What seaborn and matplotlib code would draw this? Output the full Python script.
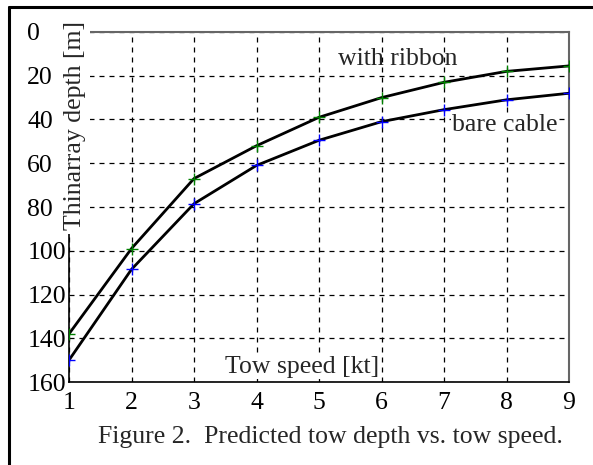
import numpy as np
import pandas as pd
import matplotlib
matplotlib.use("Agg")
import matplotlib.pyplot as plt
import seaborn as sns
from matplotlib.lines import Line2D

speed = [1, 2, 3, 4, 5, 6, 7, 8, 9]
depth_ribbon = [138, 99, 67, 52, 39, 30, 23, 18, 15.5]
depth_bare = [150, 108.5, 78.5, 61, 49.5, 41, 35.5, 31, 28]
y_ticks = [0, 20, 40, 60, 80, 100, 120, 140, 160]
x_ticks = [1, 2, 3, 4, 5, 6, 7, 8, 9]

sns.set_style("white")
plt.rcParams['font.family'] = ['Liberation Serif', 'DejaVu Serif']

FS = 18.5
W, H = 593, 465
fig = plt.figure(figsize=(W / 100, H / 100), dpi=100)
ax = fig.add_axes([69 / W, 1 - 382 / H, 500 / W, 350 / H])

df = pd.DataFrame({"speed": speed, "ribbon": depth_ribbon, "bare": depth_bare})
sns.lineplot(data=df, x="speed", y="ribbon", ax=ax, color="black", lw=2,
             marker="+", markersize=8, markeredgecolor="green", markeredgewidth=1, zorder=5)
sns.lineplot(data=df, x="speed", y="bare", ax=ax, color="black", lw=2,
             marker="+", markersize=8, markeredgecolor="blue", markeredgewidth=1, zorder=5)

ax.set_xlim(1, 9)
ax.set_ylim(160, 0)
ax.set_xticks(x_ticks)
ax.set_yticks(y_ticks)
ax.set_xticklabels([str(v) for v in x_ticks])
ax.set_yticklabels([str(v) for v in y_ticks])
ax.tick_params(axis="both", length=0, labelsize=FS, colors="black")
ax.tick_params(axis="y", pad=30)
ax.tick_params(axis="x", pad=7)
for lbl in ax.get_yticklabels():
    lbl.set_horizontalalignment("left")
ax.set_xlabel("")
ax.set_ylabel("")
ax.grid(True, color="black", linestyle=(0, (4, 4)), linewidth=0.9)

for s in ["left", "bottom"]:
    ax.spines[s].set_color("black")
    ax.spines[s].set_linewidth(1.2)
for s in ["top", "right"]:
    ax.spines[s].set_color("#666666")
    ax.spines[s].set_linewidth(1.5)

wb = dict(facecolor="white", edgecolor="none", pad=1)
ax.text(5.3, 12.5, "with ribbon", fontsize=FS, ha="left", va="center", zorder=6)
ax.text(7.13, 42.5, "bare cable", fontsize=FS, ha="left", va="center", bbox=wb, zorder=6)
ax.text(4.73, 153, "Tow speed [kt]", fontsize=FS, ha="center", va="center", bbox=wb, zorder=6)

fig.text(75 / W, 1 - 125 / H, "Thinarray depth [m]", rotation=90, fontsize=FS,
         ha="center", va="center", bbox=dict(facecolor="white", edgecolor="none", pad=3), zorder=10)

fig.text(330 / W, 1 - 437 / H, "Figure 2.  Predicted tow depth vs. tow speed.",
         fontsize=FS, ha="center", va="center")

fig.add_artist(Line2D([9 / W, 9 / W], [0, 1 - 7 / H], transform=fig.transFigure,
                      color="black", lw=2.2))
fig.add_artist(Line2D([9 / W, 1], [1 - 7 / H, 1 - 7 / H], transform=fig.transFigure,
                      color="black", lw=2.2))

fig.savefig("out.png", dpi=100)
